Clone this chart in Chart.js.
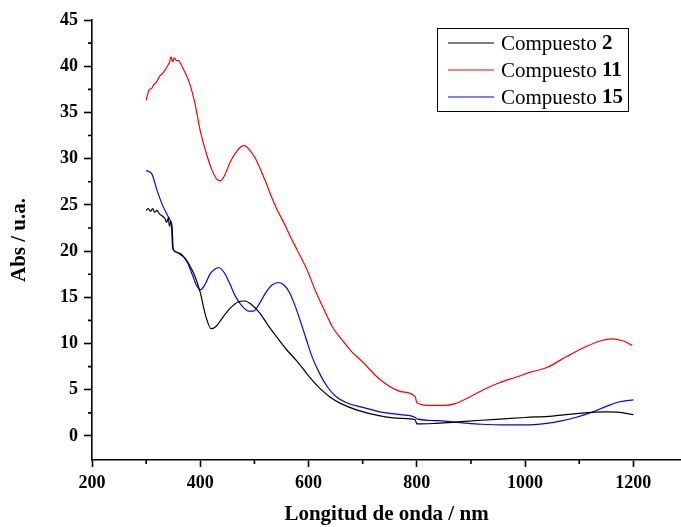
<!DOCTYPE html>
<html>
<head>
<meta charset="utf-8">
<script src="https://cdn.jsdelivr.net/npm/chart.js@4"></script>
<style>
  html, body { margin: 0; padding: 0; background: #fff; overflow: hidden; }
</style>
</head>
<body>
<canvas id="chart" width="681" height="527"></canvas>
<script>
const fontFamily = '"Liberation Serif", "Times New Roman", serif';

// Compuesto 2 (black)
const wl2 = [300, 304, 308, 312, 316, 320, 325, 330, 335, 338, 341, 343, 346, 348, 350, 356, 364, 372, 380, 390,
             400, 410, 420, 430, 440, 455, 470, 482, 495, 510, 525, 540, 560, 580, 600, 620, 640, 660, 690, 730,
             770, 797, 800, 830, 870, 920, 960, 1000, 1050, 1100, 1150, 1175, 1200];
const abs2 = [24.4, 24.6, 24.3, 24.6, 24.2, 24.4, 24.0, 23.8, 23.5, 23.1, 23.6, 22.7, 23.2, 22.6, 20.2, 19.9, 19.6, 19.2, 18.5, 17.3,
              15.5, 13.0, 11.6, 11.9, 12.7, 13.8, 14.5, 14.6, 14.2, 13.3, 12.0, 10.8, 9.3, 8.0, 6.5, 5.2, 4.2, 3.5, 2.8, 2.2,
              1.9, 1.75, 1.3, 1.35, 1.5, 1.7, 1.85, 2.0, 2.15, 2.45, 2.6, 2.55, 2.3];

// Compuesto 11 (red)
const wl11 = [300, 303, 306, 310, 314, 318, 322, 326, 330, 335, 339, 343, 346, 349, 352, 356, 360, 366, 372, 380,
              390, 400, 410, 420, 430, 437, 445, 455, 465, 475, 482, 490, 500, 510, 520, 530, 540, 555, 567, 580,
              597, 612, 630, 645, 662, 680, 700, 732, 770, 797, 800, 825, 850, 871, 900, 923, 950, 985, 1010, 1040,
              1077, 1114, 1140, 1160, 1180, 1198];
const abs11 = [36.3, 37.0, 37.5, 37.6, 38.0, 38.2, 38.6, 39.0, 39.2, 39.6, 40.0, 40.4, 41.0, 40.5, 40.9, 40.6, 40.6, 40.0, 39.3, 38.2,
               36.0, 33.0, 30.8, 29.0, 27.8, 27.6, 28.2, 29.6, 30.6, 31.3, 31.4, 31.0, 30.2, 29.0, 27.6, 26.1, 24.7, 23.0, 21.5, 20.0,
               18.0, 15.8, 13.5, 11.7, 10.4, 9.1, 8.0, 6.1, 4.8, 4.25, 3.6, 3.3, 3.3, 3.5, 4.3, 5.0, 5.7, 6.4, 6.9, 7.4,
               8.6, 9.7, 10.3, 10.5, 10.3, 9.8];

// Compuesto 15 (blue)
const wl15 = [300, 310, 320, 330, 340, 347, 349, 360, 375, 385, 393, 400, 408, 418, 428, 435, 445, 455, 465, 478,
              490, 498, 510, 520, 532, 545, 555, 565, 575, 585, 595, 605, 620, 635, 650, 670, 700, 732, 770, 797,
              800, 840, 880, 920, 960, 1000, 1040, 1065, 1093, 1120, 1150, 1175, 1200];
const abs15 = [28.7, 28.4, 26.6, 25.0, 23.8, 22.5, 20.3, 19.8, 18.9, 17.5, 16.3, 15.8, 16.3, 17.5, 18.1, 18.2, 17.6, 16.4, 15.1, 14.0,
               13.5, 13.5, 14.4, 15.4, 16.3, 16.6, 16.3, 15.5, 14.1, 12.4, 10.6, 8.8, 6.8, 5.3, 4.3, 3.6, 3.1, 2.6, 2.3, 2.0,
               1.85, 1.65, 1.45, 1.27, 1.2, 1.2, 1.37, 1.6, 2.0, 2.5, 3.2, 3.7, 3.9];

const xTicks = [200, 400, 600, 800, 1000, 1200];
const xMinor = [300, 500, 700, 900, 1100];
const yTicks = [0, 5, 10, 15, 20, 25, 30, 35, 40, 45];
const yMinor = [2.5, 7.5, 12.5, 17.5, 22.5, 27.5, 32.5, 37.5, 42.5];

const seriesNames = ['2', '11', '15'];
const seriesColors = ['#000000', '#ff0000', '#0000ff'];

const toPoints = (xs, ys) => xs.map((x, i) => ({ x: x, y: ys[i] }));

// minor ticks, drawn through the scales
const minorTicks = {
  id: 'minorTicks',
  afterDraw(chart) {
    const ctx = chart.ctx;
    const xs = chart.scales.x, ys = chart.scales.y;
    ctx.save();
    ctx.strokeStyle = '#000';
    ctx.lineWidth = 1.6;
    ctx.beginPath();
    xMinor.forEach(v => {
      const px = xs.getPixelForValue(v);
      ctx.moveTo(px, xs.top);
      ctx.lineTo(px, xs.top + 4);
    });
    yMinor.forEach(v => {
      const py = ys.getPixelForValue(v);
      ctx.moveTo(ys.right, py);
      ctx.lineTo(ys.right - 4, py);
    });
    ctx.stroke();
    ctx.restore();
  }
};

// boxed legend with bold compound numbers
const boxLegend = {
  id: 'boxLegend',
  afterDraw(chart) {
    const ctx = chart.ctx;
    ctx.save();
    ctx.strokeStyle = '#000';
    ctx.lineWidth = 1;
    ctx.strokeRect(437.5, 28.5, 191, 83);
    seriesNames.forEach((name, i) => {
      const y = 43 + i * 27;
      ctx.strokeStyle = seriesColors[i];
      ctx.lineWidth = 1.2;
      ctx.beginPath();
      ctx.moveTo(448, y);
      ctx.lineTo(494, y);
      ctx.stroke();
      ctx.fillStyle = '#000';
      ctx.textBaseline = 'middle';
      ctx.font = '21px ' + fontFamily;
      ctx.fillText('Compuesto ', 501, y + 1);
      const w = ctx.measureText('Compuesto ').width;
      ctx.font = 'bold 21px ' + fontFamily;
      ctx.fillText(name, 501 + w, y + 1);
    });
    ctx.restore();
  }
};

new Chart(document.getElementById('chart').getContext('2d'), {
  type: 'line',
  data: {
    datasets: [
      { label: 'Compuesto 2', data: toPoints(wl2, abs2), borderColor: seriesColors[0] },
      { label: 'Compuesto 11', data: toPoints(wl11, abs11), borderColor: seriesColors[1] },
      { label: 'Compuesto 15', data: toPoints(wl15, abs15), borderColor: seriesColors[2] }
    ]
  },
  options: {
    responsive: false,
    animation: false,
    layout: { padding: { top: 20, right: 0, left: 0, bottom: 0 } },
    elements: {
      point: { radius: 0 },
      line: { borderWidth: 1.2, cubicInterpolationMode: 'monotone', fill: false }
    },
    plugins: {
      legend: { display: false },
      tooltip: { enabled: false }
    },
    scales: {
      x: {
        type: 'linear',
        min: 200,
        max: 1288,
        afterBuildTicks: s => { s.ticks = xTicks.map(v => ({ value: v })); },
        afterFit: s => { s.height = 67; },
        grid: { drawOnChartArea: false, tickLength: 7, tickWidth: 1.6, tickColor: '#000' },
        border: { color: '#000', width: 1.6 },
        ticks: {
          color: '#000', padding: 6, maxRotation: 0,
          callback: v => String(v),
          font: { family: fontFamily, size: 18, weight: 'bold' }
        },
        title: {
          display: true,
          text: 'Longitud de onda / nm',
          color: '#000',
          padding: { top: 0, bottom: 0 },
          font: { family: fontFamily, size: 21, weight: 'bold' }
        }
      },
      y: {
        min: -2.6,
        max: 45,
        afterBuildTicks: s => { s.ticks = yTicks.map(v => ({ value: v })); },
        afterFit: s => { s.width = 92; },
        grid: { drawOnChartArea: false, tickLength: 8, tickWidth: 1.6, tickColor: '#000' },
        border: { color: '#000', width: 1.6 },
        ticks: {
          color: '#000', padding: 6,
          callback: v => String(v),
          font: { family: fontFamily, size: 18, weight: 'bold' }
        },
        title: {
          display: true,
          text: 'Abs / u.a.',
          color: '#000',
          padding: { top: 7, bottom: 0 },
          font: { family: fontFamily, size: 21, weight: 'bold' }
        }
      }
    }
  },
  plugins: [minorTicks, boxLegend]
});
</script>
</body>
</html>
